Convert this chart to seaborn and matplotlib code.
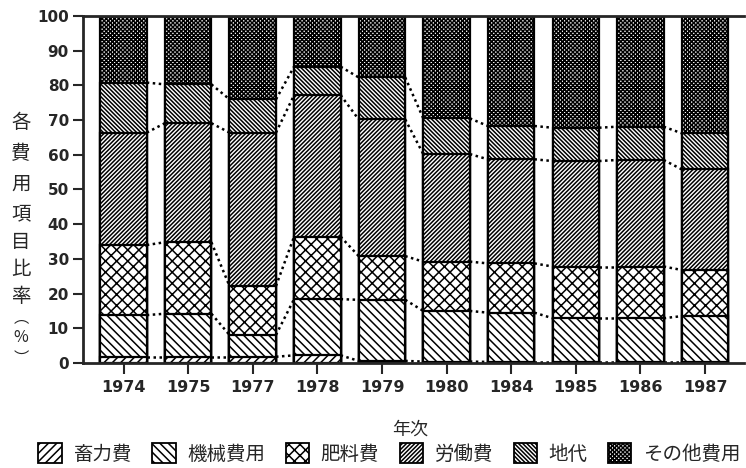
import pandas as pd
import matplotlib.pyplot as plt
import seaborn as sns
from matplotlib.patches import Patch

# 年次
years = ['1974', '1975', '1977', '1978', '1979', '1980', '1984', '1985', '1986', '1987']
categories = ['畜力費', '機械費用', '肥料費', '労働費', '地代', 'その他費用']

# 各費用項目比率 (%) 図から読み取り
chikuryoku = [1.8, 1.8, 1.8, 2.2, 0.6, 0.4, 0.3, 0.3, 0.3, 0.3]
kikai = [12.0, 12.4, 6.3, 16.2, 17.6, 14.6, 14.2, 12.6, 12.6, 13.2]
hiryo = [20.2, 20.6, 14.1, 18.0, 12.6, 14.2, 14.2, 14.9, 14.9, 13.3]
rodo = [32.4, 34.3, 44.2, 40.8, 39.4, 31.0, 30.0, 30.4, 30.7, 29.0]
chidai = [14.4, 11.2, 9.6, 8.2, 12.1, 10.3, 9.6, 9.6, 9.6, 10.4]
sonota = [19.2, 19.7, 24.0, 14.6, 17.7, 29.5, 31.7, 32.2, 31.9, 33.8]

hatches = ['////', '\\' * 4, 'xxx', '/' * 8, '\\' * 8, 'x' * 8]

df = pd.DataFrame({'年次': years, '畜力費': chikuryoku, '機械費用': kikai, '肥料費': hiryo,
                   '労働費': rodo, '地代': chidai, 'その他費用': sonota})
cum = df[categories].cumsum(axis=1)
cum['年次'] = years

sns.set_style('ticks')
plt.rcParams['font.family'] = ['Noto Sans CJK JP', 'DejaVu Sans']
plt.rcParams['hatch.linewidth'] = 1.1

fig = plt.figure(figsize=(7.46, 4.68), dpi=100)
ax = fig.add_axes([0.111, 0.2244, 0.886, 0.7414])

w = 0.72
# 上の層から順に累積値で重ねて描く
for cat, h in reversed(list(zip(categories, hatches))):
    sns.barplot(data=cum, x='年次', y=cat, color='white', edgecolor='black',
                linewidth=1.6, hatch=h, width=w, ax=ax)

# 点線で各層の境界をつなぐ
for cat in categories[:-1]:
    vals = cum[cat].values
    for i in range(len(years) - 1):
        ax.plot([i + w / 2, i + 1 - w / 2], [vals[i], vals[i + 1]],
                linestyle=(0, (1, 1.4)), color='black', lw=1.8)

ax.set_xlim(-0.63, 9.6)
ax.set_ylim(0, 100)
ax.set_yticks(range(0, 101, 10))
ax.set_xlabel('')
ax.set_ylabel('')
ax.tick_params(axis='y', length=7, width=1.5, labelsize=11, pad=3)
ax.tick_params(axis='x', length=8, width=1.5, labelsize=11.5, pad=4)
for lab in ax.get_yticklabels() + ax.get_xticklabels():
    lab.set_fontweight('bold')
    lab.set_family('DejaVu Sans')
for s in ['left', 'bottom', 'top']:
    ax.spines[s].set_linewidth(2)
ax.spines['right'].set_visible(False)

# 縦書きの軸ラベル
ylab_chars = ['各', '費', '用', '項', '目', '比', '率', '︵', '%', '︶']
ylab_px = [122, 154, 184, 214, 242, 270, 297, 318, 338, 358]
ylab_size = [14, 14, 14, 14, 14, 14, 14, 11, 11.5, 11]
for ch, py, fs in zip(ylab_chars, ylab_px, ylab_size):
    fig.text(21 / 746, 1 - py / 468, ch, ha='center', va='center', fontsize=fs)

fig.text(0.55, 0.083, '年次', ha='center', va='center', fontsize=13)

handles = [Patch(facecolor='white', edgecolor='black', hatch=h, lw=1.3) for h in hatches]
fig.legend(handles, categories, loc='center', bbox_to_anchor=(0.522, 0.03), ncol=6,
           frameon=False, handlelength=1.2, handleheight=1.2, columnspacing=1.05,
           handletextpad=0.6, fontsize=14, borderaxespad=0)

fig.savefig('out.png', dpi=100)
